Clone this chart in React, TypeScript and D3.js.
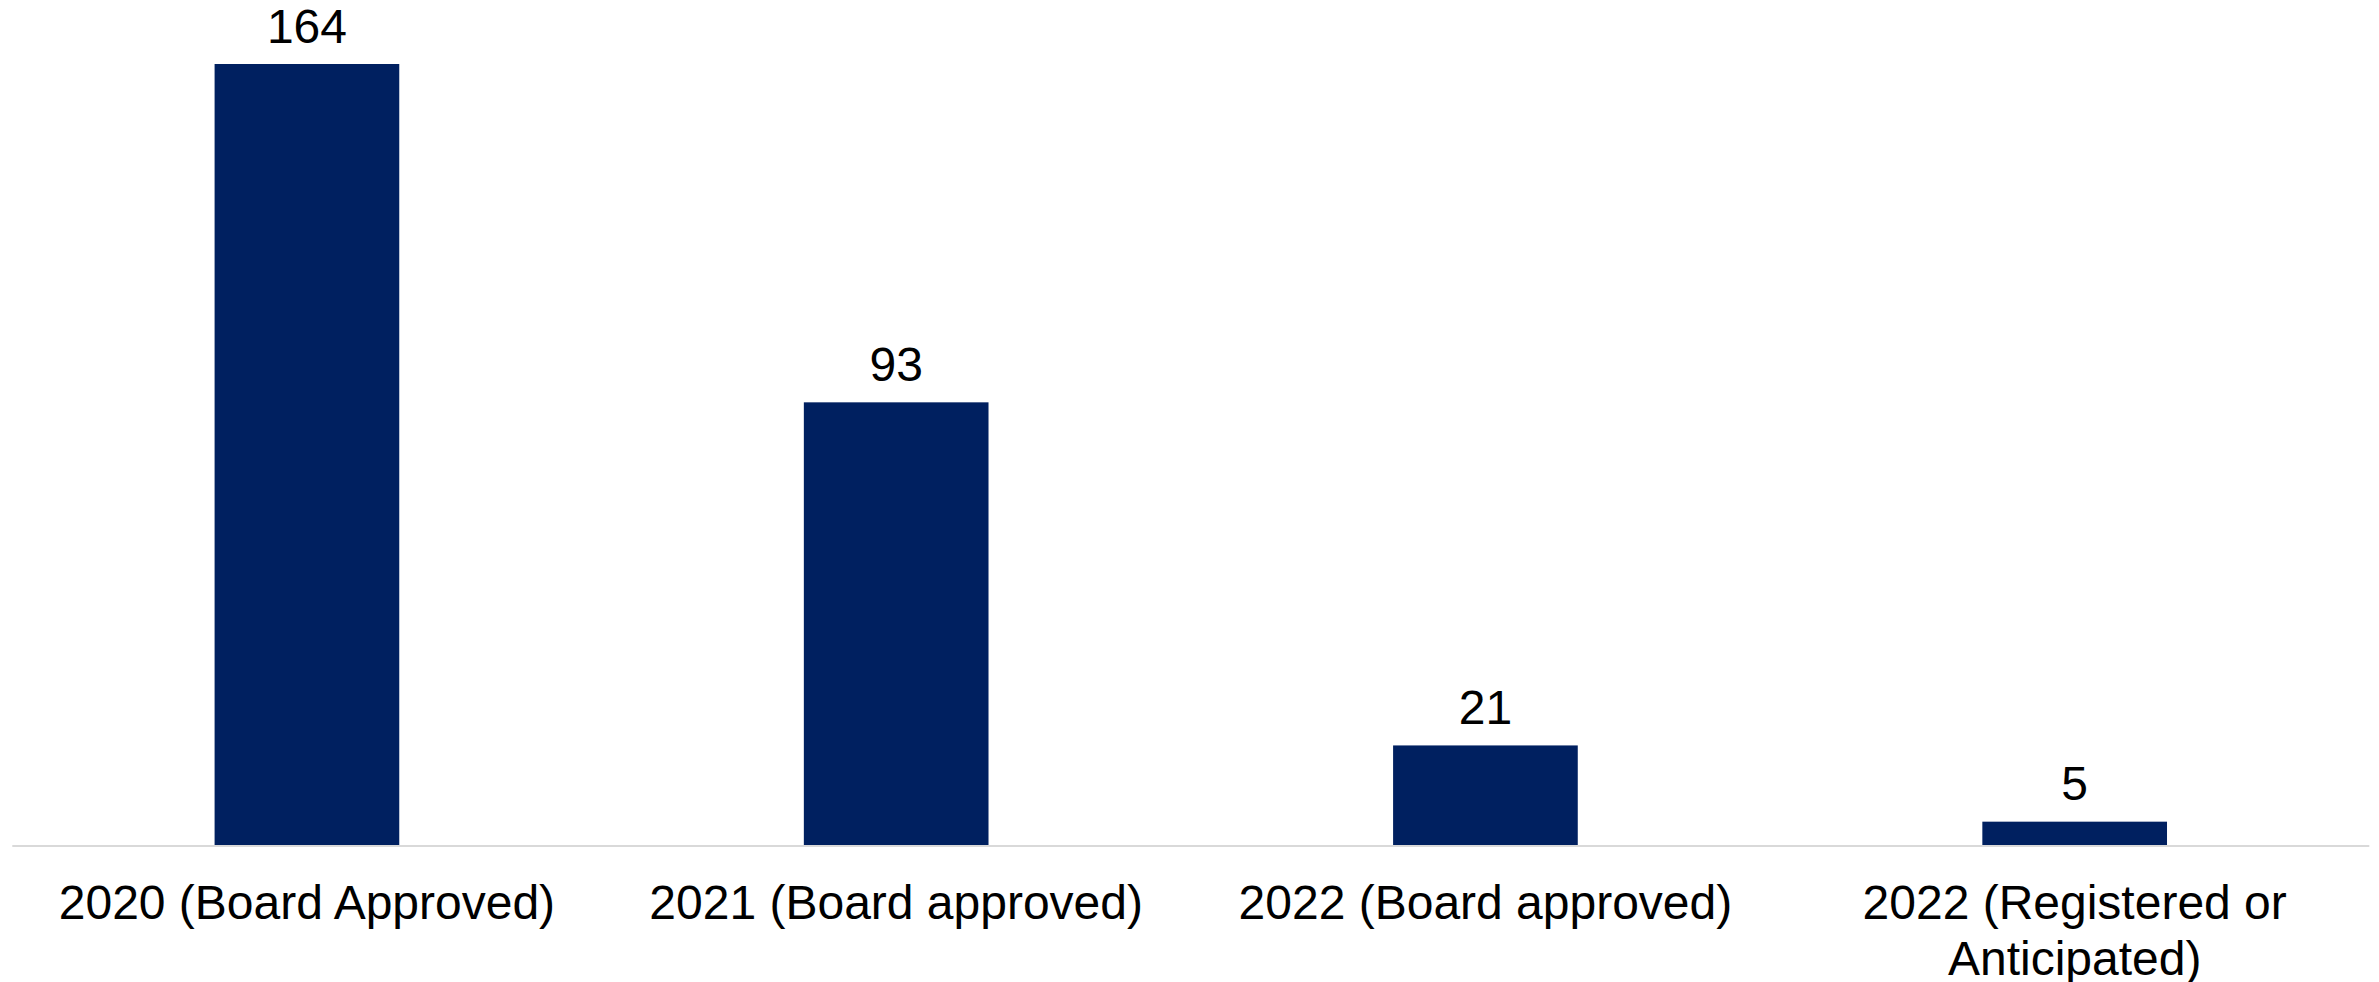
import React from "react";
import * as d3 from "d3";

const categories: string[][] = [
  ["2020 (Board Approved)"],
  ["2021 (Board approved)"],
  ["2022 (Board approved)"],
  ["2022 (Registered or", "Anticipated)"],
];
const values: number[] = [164, 93, 21, 5];

const W = 2379;
const H = 982;
const left = 12.3;
const right = 2369.3;
const baseY = 845.5;
const topY = 64;

export default function App() {
  const keys = categories.map((_, i) => String(i));
  const x = d3
    .scaleBand<string>()
    .domain(keys)
    .range([left, right])
    .paddingInner(0.6866)
    .paddingOuter(0.3433);
  const y = d3.scaleLinear().domain([0, 164]).range([baseY, topY]);
  const font = "'Liberation Sans', Arial, sans-serif";

  return (
    <svg
      width={W}
      height={H}
      style={{ position: "absolute", left: 0, top: 0, background: "#fff" }}
      fontFamily={font}
    >
      {values.map((v, i) => {
        const bx = x(String(i))!;
        return (
          <g key={i}>
            <rect
              x={bx}
              y={y(v)}
              width={x.bandwidth()}
              height={baseY - y(v)}
              fill="#002060"
            />
            <text
              x={bx + x.bandwidth() / 2}
              y={y(v) - 21.5}
              textAnchor="middle"
              fontSize={48}
              fill="#000"
            >
              {v}
            </text>
          </g>
        );
      })}
      <line
        x1={left}
        x2={right}
        y1={baseY + 0.5}
        y2={baseY + 0.5}
        stroke="#d9d9d9"
        strokeWidth={2}
      />
      {categories.map((lines, i) => (
        <text
          key={i}
          x={x(String(i))! + x.bandwidth() / 2}
          y={919}
          textAnchor="middle"
          fontSize={48}
          fill="#000"
        >
          {lines.map((l, j) => (
            <tspan key={j} x={x(String(i))! + x.bandwidth() / 2} dy={j === 0 ? 0 : 55.5}>
              {l}
            </tspan>
          ))}
        </text>
      ))}
    </svg>
  );
}
